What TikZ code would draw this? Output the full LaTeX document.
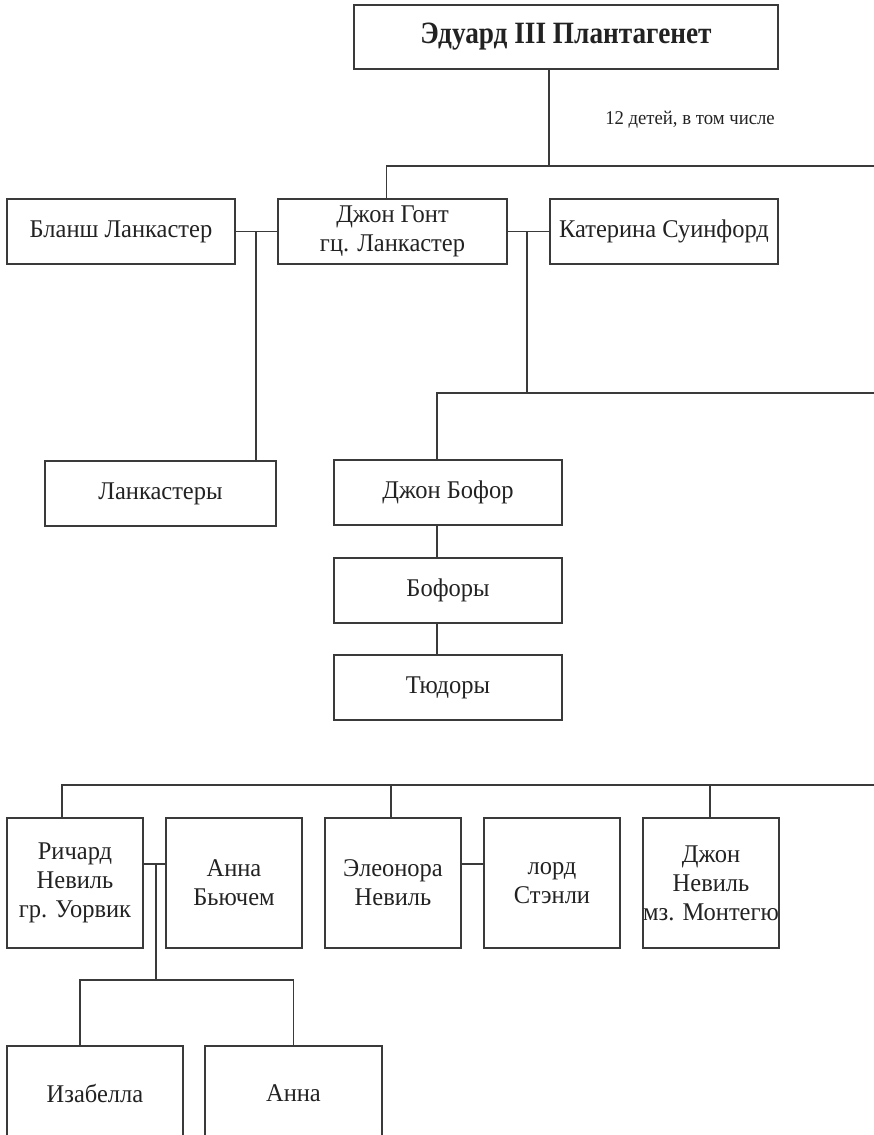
\documentclass[tikz,border=0pt]{standalone}
\usepackage{fontspec}
\setmainfont{Liberation Serif}[FakeStretch=0.96]
\newfontfamily\titlefont{Liberation Serif}[FakeStretch=0.88]
\usetikzlibrary{calc,positioning}
\definecolor{ink}{HTML}{222222}
\definecolor{rule}{HTML}{3A3A3A}

\begin{document}
\begin{tikzpicture}[
  x=1pt, y=-1pt,
  font=\fontsize{25.5}{29}\selectfont,
  person/.style={draw=rule, line width=1.3pt, text=ink, align=center,
    inner sep=0pt, minimum height=65pt},
  house/.style={person, minimum width=228pt},
  head/.style={person, minimum width=424pt, minimum height=64pt,
    font=\titlefont\fontsize{31}{36}\selectfont\bfseries},
  tall/.style={person, minimum width=136pt, minimum height=130pt},
  child/.style={person, minimum width=176pt, minimum height=94pt},
  link/.style={draw=rule, line width=1.3pt},
  note/.style={text=ink, font=\fontsize{19.5}{22}\selectfont}
]
\useasboundingbox (0,0) rectangle (874,1135);

\node[head] (edward) at (566,37) {Эдуард III Плантагенет};
\node[note] (kidsnote) at (690,120) {12 детей, в том числе};

\node[house] (blanche) at (121,231.5) {Бланш Ланкастер};
\node[house, minimum width=229pt] (gaunt) at (392.5,231.5) {Джон Гонт\\гц. Ланкастер};
\node[house] (kath) at (664,231.5) {Катерина Суинфорд};

\node[house, minimum width=231pt] (lancs) at (160.5,493.5) {Ланкастеры};
\node[house] (beaufort) at (448,492.5) {Джон Бофор};
\node[house] (beauforts) at (448,590.5) {Бофоры};
\node[house] (tudors) at (448,687.5) {Тюдоры};

\node[tall] (warwick) at (75,883) {Ричард\\Невиль\\гр. Уорвик};
\node[tall] (beauchamp) at (234,883) {Анна\\Бьючем};
\node[tall] (eleanor) at (393,883) {Элеонора\\Невиль};
\node[tall] (stanley) at (552,883) {лорд\\Стэнли};
\node[tall] (montagu) at (711,883) {Джон\\Невиль\\мз. Монтегю};

\node[child] (isabel) at (95,1093) {Изабелла};
\node[child, minimum width=177pt] (anne) at (293.5,1093) {Анна};

% Edward III and his children
\coordinate (kids) at (549,166);
\coordinate (kidsend) at (874,166);
\draw[link] (edward.south -| kids) -- (kids);
\draw[link] (kidsend) -- (kids) -| ([xshift=-6pt]gaunt.north);

% marriages of John of Gaunt
\draw[link] (blanche) -- (gaunt);
\draw[link] (gaunt) -- (kath);
\coordinate (wed1) at (256,231.5);
\draw[link] (wed1) -- (wed1 |- lancs.north);
\coordinate (wed2) at (527,231.5);
\coordinate (beau) at (437,393);
\coordinate (beauend) at (874,393);
\draw[link] (wed2) -- (wed2 |- beau);
\draw[link] (beauend) -- (beau) -- (beau |- beaufort.north);
\draw[link] (beau |- beaufort.south) -- (beau |- beauforts.north);
\draw[link] (beau |- beauforts.south) -- (beau |- tudors.north);

% the Nevilles
\coordinate (nev) at (62,785);
\coordinate (nevend) at (874,785);
\coordinate (nev2) at (391,785);
\coordinate (nev3) at (710,785);
\draw[link] (nevend) -- (nev) -- (nev |- warwick.north);
\draw[link] (nev2) -- (nev2 |- eleanor.north);
\draw[link] (nev3) -- (nev3 |- montagu.north);
\coordinate (wed3) at (156,864);
\draw[link] (warwick.east |- wed3) -- (beauchamp.west |- wed3);
\draw[link] (eleanor.east |- wed3) -- (stanley.west |- wed3);
\coordinate (daus) at (156,980);
\draw[link] (wed3) -- (daus);
\draw[link] ([xshift=-15pt]isabel.north) |- (daus) -| (anne.north);
\end{tikzpicture}
\end{document}
